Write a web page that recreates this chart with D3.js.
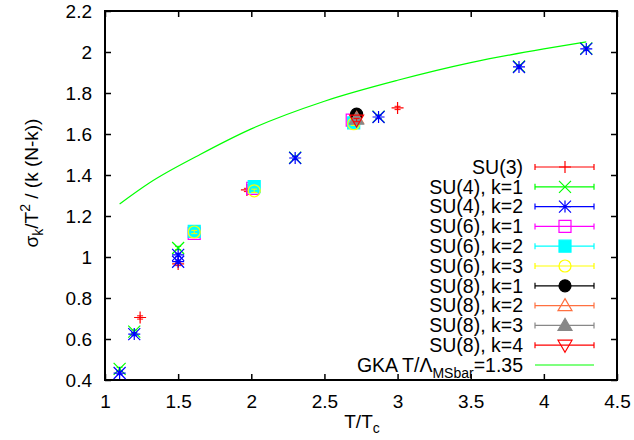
<!DOCTYPE html>
<html>
<head>
<meta charset="utf-8">
<script src="https://cdn.jsdelivr.net/npm/d3@7"></script>
<style>
  body { margin: 0; background: #fff; }
  svg { font-family: "Liberation Sans", Arial, sans-serif; }
</style>
</head>
<body>
<div id="chart"></div>
<script>
    // Data
    var xTicks = [1, 1.5, 2, 2.5, 3, 3.5, 4, 4.5];
    var yTicks = [0.4, 0.6, 0.8, 1, 1.2, 1.4, 1.6, 1.8, 2, 2.2];

    var su3T = [1.24, 1.5, 1.97, 3.0];
    var su3V = [0.705, 0.966, 1.327, 1.727];

    var su4k1T = [1.1, 1.2, 1.5, 2.3, 2.87, 3.83, 4.29];
    var su4k1V = [0.454, 0.636, 1.044, 1.485, 1.685, 1.93, 2.018];

    var su4k2T = [1.1, 1.2, 1.5, 1.5, 2.3, 2.87, 3.83, 4.29];
    var su4k2V = [0.434, 0.624, 1.01, 0.977, 1.483, 1.683, 1.927, 2.015];

    var su6k1T = [1.61, 2.01, 2.69];
    var su6k1V = [1.115, 1.335, 1.668];
    var su6k2T = [1.61, 2.02, 2.7];
    var su6k2V = [1.125, 1.343, 1.654];
    var su6k3T = [1.61, 2.02, 2.7];
    var su6k3V = [1.122, 1.323, 1.65];

    var su8k1T = [2.72];
    var su8k1V = [1.697];
    var su8k2T = [2.72];
    var su8k2V = [1.676];
    var su8k3T = [2.72];
    var su8k3V = [1.672];
    var su8k4T = [2.72];
    var su8k4V = [1.668];

    var gkaT = [1.1, 1.3, 1.65, 2.0, 2.5, 3.0, 3.5, 4.0, 4.29];
    var gkaV = [1.259, 1.36, 1.50, 1.625, 1.76, 1.862, 1.948, 2.015, 2.049];

    var errSize = 0.008;

    var series = [
      { label: "SU(3)", t: su3T, v: su3V, color: "#ff0000", sym: "plus" },
      { label: "SU(4), k=1", t: su4k1T, v: su4k1V, color: "#00ff00", sym: "cross" },
      { label: "SU(4), k=2", t: su4k2T, v: su4k2V, color: "#0000ff", sym: "star" },
      { label: "SU(6), k=1", t: su6k1T, v: su6k1V, color: "#ff00ff", sym: "square" },
      { label: "SU(6), k=2", t: su6k2T, v: su6k2V, color: "#00ffff", sym: "squareFill" },
      { label: "SU(6), k=3", t: su6k3T, v: su6k3V, color: "#ffff00", sym: "circle" },
      { label: "SU(8), k=1", t: su8k1T, v: su8k1V, color: "#000000", sym: "circleFill" },
      { label: "SU(8), k=2", t: su8k2T, v: su8k2V, color: "#ff7040", sym: "triangle" },
      { label: "SU(8), k=3", t: su8k3T, v: su8k3V, color: "#888888", sym: "triangleFill" },
      { label: "SU(8), k=4", t: su8k4T, v: su8k4V, color: "#ff0000", sym: "triangleDown" }
    ];

    // Chart frame
    var plotLeft = 105, plotRight = 617, plotTop = 11, plotBottom = 380;

    var svg = d3.select("#chart")
      .append("svg")
      .attr("width", 634)
      .attr("height", 440);

    var xScale = d3.scaleLinear().domain([1, 4.5]).range([plotLeft, plotRight]);
    var yScale = d3.scaleLinear().domain([0.4, 2.2]).range([plotBottom, plotTop]);

    // Axes with inward ticks on all sides
    var fmt = function (d) { return String(d); };
    svg.append("g")
      .attr("transform", "translate(0," + plotBottom + ")")
      .call(d3.axisBottom(xScale).tickValues(xTicks).tickFormat(fmt)
        .tickSizeInner(-6).tickSizeOuter(0).tickPadding(15));
    svg.append("g")
      .attr("transform", "translate(0," + plotTop + ")")
      .call(d3.axisTop(xScale).tickValues(xTicks).tickFormat("")
        .tickSizeInner(-6).tickSizeOuter(0));
    svg.append("g")
      .attr("transform", "translate(" + plotLeft + ",0)")
      .call(d3.axisLeft(yScale).tickValues(yTicks).tickFormat(fmt)
        .tickSizeInner(-6).tickSizeOuter(0).tickPadding(13));
    svg.append("g")
      .attr("transform", "translate(" + plotRight + ",0)")
      .call(d3.axisRight(yScale).tickValues(yTicks).tickFormat("")
        .tickSizeInner(-6).tickSizeOuter(0));

    svg.selectAll(".domain").remove();
    svg.selectAll(".tick line").attr("stroke", "#000").attr("stroke-width", 1.5);
    svg.selectAll(".tick text")
      .attr("fill", "#000")
      .style("font-size", "19px")
      .style("font-family", "Liberation Sans, Arial, sans-serif");

    svg.append("rect")
      .attr("x", plotLeft).attr("y", plotTop)
      .attr("width", plotRight - plotLeft).attr("height", plotBottom - plotTop)
      .attr("fill", "none").attr("stroke", "#000").attr("stroke-width", 2);

    // GKA curve
    var gka = gkaT.map(function (t, i) { return [t, gkaV[i]]; });
    svg.append("path")
      .datum(gka)
      .attr("fill", "none")
      .attr("stroke", "#00ff00")
      .attr("stroke-width", 1.2)
      .attr("d", d3.line()
        .x(function (d) { return xScale(d[0]); })
        .y(function (d) { return yScale(d[1]); })
        .curve(d3.curveMonotoneX));

    // Function to draw a symbol at (x, y)
    function drawSymbol(g, sym, x, y, color) {
      var s = 6;
      var p = g.append("path").attr("stroke", color).attr("stroke-width", 1.2);
      var d = "";
      var fill = "none";
      switch (sym) {
        case "plus":
          d = "M" + (x - s) + "," + y + "H" + (x + s) + "M" + x + "," + (y - s) + "V" + (y + s);
          break;
        case "cross":
          d = "M" + (x - s) + "," + (y - s) + "L" + (x + s) + "," + (y + s) +
              "M" + (x - s) + "," + (y + s) + "L" + (x + s) + "," + (y - s);
          break;
        case "star":
          d = "M" + (x - s) + "," + y + "H" + (x + s) + "M" + x + "," + (y - s) + "V" + (y + s) +
              "M" + (x - s) + "," + (y - s) + "L" + (x + s) + "," + (y + s) +
              "M" + (x - s) + "," + (y + s) + "L" + (x + s) + "," + (y - s);
          break;
        case "square":
        case "squareFill":
          d = "M" + (x - s) + "," + (y - s) + "H" + (x + s) + "V" + (y + s) + "H" + (x - s) + "Z";
          if (sym === "squareFill") fill = color;
          break;
        case "circle":
        case "circleFill":
          d = "M" + (x + s) + "," + y + "A" + s + "," + s + " 0 1,1 " + (x - s) + "," + y +
              "A" + s + "," + s + " 0 1,1 " + (x + s) + "," + y + "Z";
          if (sym === "circleFill") fill = color;
          break;
        case "triangle":
        case "triangleFill":
          d = "M" + x + "," + (y - s - 1) + "L" + (x + s + 1) + "," + (y + s - 1) + "H" + (x - s - 1) + "Z";
          if (sym === "triangleFill") fill = color;
          break;
        case "triangleDown":
          d = "M" + x + "," + (y + s + 1) + "L" + (x + s + 1) + "," + (y - s + 1) + "H" + (x - s - 1) + "Z";
          break;
      }
      p.attr("d", d).attr("fill", fill);
    }

    // Data points with error bars
    series.forEach(function (s) {
      var g = svg.append("g");
      s.t.forEach(function (t, i) {
        var x = xScale(t);
        var y0 = yScale(s.v[i] - errSize), y1 = yScale(s.v[i] + errSize);
        g.append("path")
          .attr("d", "M" + x + "," + y0 + "V" + y1 +
            "M" + (x - 3) + "," + y0 + "H" + (x + 3) +
            "M" + (x - 3) + "," + y1 + "H" + (x + 3))
          .attr("stroke", s.color).attr("fill", "none").attr("stroke-width", 1);
        drawSymbol(g, s.sym, x, yScale(s.v[i]), s.color);
      });
    });

    // Legend
    var legX = 523, legY0 = 167, legStep = 19.8;
    var sampleL = 535, sampleR = 594, sampleC = 565;
    series.forEach(function (s, i) {
      var y = legY0 + i * legStep;
      svg.append("text")
        .attr("x", legX).attr("y", y)
        .attr("dy", "0.35em")
        .attr("text-anchor", "end")
        .style("font-size", "19.5px")
        .text(s.label);
      svg.append("path")
        .attr("d", "M" + sampleL + "," + y + "H" + sampleR +
          "M" + sampleL + "," + (y - 3) + "V" + (y + 3) +
          "M" + sampleR + "," + (y - 3) + "V" + (y + 3))
        .attr("stroke", s.color).attr("stroke-width", 1.2);
      drawSymbol(svg, s.sym, sampleC, y, s.color);
    });

    var gkaY = legY0 + series.length * legStep;
    var gkaText = svg.append("text")
      .attr("x", legX).attr("y", gkaY)
      .attr("dy", "0.35em")
      .attr("text-anchor", "end")
      .style("font-size", "19.5px");
    gkaText.append("tspan").text("GKA T/\u039b");
    gkaText.append("tspan").attr("dy", 6).style("font-size", "14px").text("MSbar");
    gkaText.append("tspan").attr("dy", -6).text("=1.35");
    svg.append("line")
      .attr("x1", sampleL).attr("x2", sampleR)
      .attr("y1", gkaY).attr("y2", gkaY)
      .attr("stroke", "#00ff00").attr("stroke-width", 1.2);

    // Axis labels
    var xLabel = svg.append("text")
      .attr("x", 362).attr("y", 428)
      .attr("text-anchor", "middle")
      .style("font-size", "19px");
    xLabel.append("tspan").text("T/T");
    xLabel.append("tspan").attr("dy", 5).style("font-size", "14px").text("c");

    var yLabel = svg.append("text")
      .attr("transform", "translate(38,183) rotate(-90)")
      .attr("text-anchor", "middle")
      .style("font-size", "19px");
    yLabel.append("tspan").text("\u03c3");
    yLabel.append("tspan").attr("dy", 5).style("font-size", "14px").text("k");
    yLabel.append("tspan").attr("dy", -5).text("/T");
    yLabel.append("tspan").attr("dy", -8).style("font-size", "14px").text("2");
    yLabel.append("tspan").attr("dy", 8).text(" / (k (N-k))");
</script>
</body>
</html>
